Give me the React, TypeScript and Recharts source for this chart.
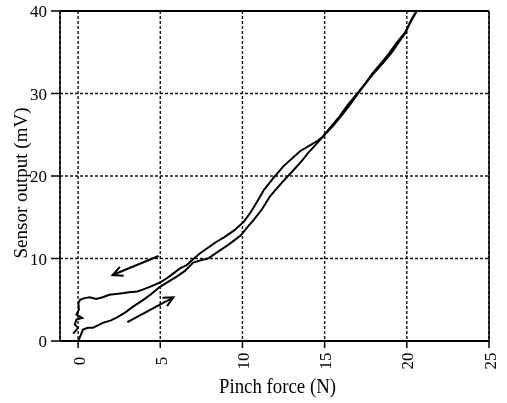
import React from 'react';
import { LineChart, Line, XAxis, YAxis, CartesianGrid, ReferenceLine, Label } from 'recharts';

const xTicks = [0, 5, 10, 15, 20, 25];
const yTicks = [0, 10, 20, 30, 40];

// Loading branch (force increasing)
const loadingCurve: [number, number][] = [
  [0, 0], [0.1, 0.4], [0.3, 1.4], [0.6, 1.6], [0.9, 1.6], [1.5, 2.2], [2.0, 2.5], [2.4, 2.9],
  [2.9, 3.5], [3.3, 4.1], [3.9, 4.9], [4.4, 5.6], [5.0, 6.6], [5.5, 7.2], [6.0, 7.8], [6.5, 8.5],
  [7.0, 9.5], [7.5, 9.8], [7.9, 10.0], [8.5, 10.8], [9.1, 11.6], [9.5, 12.2], [9.9, 12.8],
  [10.3, 13.8], [10.7, 14.7], [11.2, 16.0], [11.7, 17.6], [12.4, 19.2], [13.1, 20.7], [13.6, 21.8],
  [14.0, 22.8], [14.6, 24.1], [15.1, 25.2], [15.6, 26.3], [16.1, 27.5], [16.6, 28.8], [17.1, 30.2],
  [17.6, 31.5], [18.1, 32.7], [18.6, 33.8], [19.1, 35.0], [19.5, 36.2], [19.9, 37.3], [20.2, 38.6],
  [20.6, 40.0],
];

// Unloading branch (force decreasing)
const unloadingCurve: [number, number][] = [
  [20.6, 40.0], [20.3, 39.0], [19.9, 37.4], [19.4, 36.2], [18.9, 34.8], [18.4, 33.6], [17.9, 32.4],
  [17.4, 31.0], [16.9, 29.8], [16.4, 28.6], [15.9, 27.2], [15.4, 26.0], [14.9, 24.8], [14.6, 24.3],
  [14.0, 23.6], [13.5, 23.0], [13.0, 22.1], [12.5, 21.2], [11.9, 19.8], [11.3, 18.3], [10.9, 16.9],
  [10.5, 15.6], [10.1, 14.5], [9.5, 13.4], [8.9, 12.6], [8.4, 12.0], [7.9, 11.3], [7.4, 10.6],
  [7.0, 9.9], [6.6, 9.2], [6.2, 8.8], [5.8, 8.2], [5.4, 7.6], [5.0, 7.1], [4.4, 6.6], [3.9, 6.2],
  [3.6, 6.0], [3.1, 5.9], [2.7, 5.8], [2.3, 5.7], [1.9, 5.6], [1.5, 5.3], [1.1, 5.1], [0.7, 5.3],
  [0.4, 5.2], [0.12, 5.0], [0.02, 4.6], [0.05, 3.8], [-0.1, 3.2], [0.25, 2.8], [-0.1, 2.6],
  [-0.2, 2.0], [0.0, 1.6], [-0.3, 0.9],
];

// Direction arrows: [start, end]
const unloadArrow: [[number, number], [number, number]] = [[4.9, 10.3], [2.1, 8.0]];
const loadArrow: [[number, number], [number, number]] = [[3.0, 2.3], [5.8, 5.3]];

const toPoints = (arr: [number, number][]) => arr.map(([x, y]) => ({ x, y }));

const FONT = 'Liberation Serif, Times New Roman, serif';

const ArrowShape = (props: any) => {
  const { x1, y1, x2, y2 } = props;
  if ([x1, y1, x2, y2].some((v) => typeof v !== 'number' || isNaN(v))) return <g />;
  const ang = Math.atan2(y2 - y1, x2 - x1);
  const len = 11;
  const spread = 0.45;
  const ax = x2 - len * Math.cos(ang - spread);
  const ay = y2 - len * Math.sin(ang - spread);
  const bx = x2 - len * Math.cos(ang + spread);
  const by = y2 - len * Math.sin(ang + spread);
  return (
    <g>
      <line x1={x1} y1={y1} x2={x2} y2={y2} stroke="#000" strokeWidth={2} />
      <polyline points={`${ax},${ay} ${x2},${y2} ${bx},${by}`} fill="none" stroke="#000" strokeWidth={2} />
    </g>
  );
};

const XTick = (props: any) => {
  const { x, y, payload } = props;
  const cy = y + 11;
  return (
    <text
      x={x + 1}
      y={cy}
      transform={`rotate(-90, ${x + 1}, ${cy})`}
      textAnchor="middle"
      dominantBaseline="central"
      fontFamily={FONT}
      fontSize={17}
      fill="#000"
    >
      {payload.value}
    </text>
  );
};

export default function App() {
  return (
    <div style={{ position: 'absolute', left: 0, top: 0, background: '#fff', filter: 'grayscale(1)' }}>
      <LineChart width={507} height={403} margin={{ top: 11, right: 18, left: 0, bottom: 0 }}>
        <CartesianGrid stroke="#111" strokeDasharray="3 2" strokeWidth={1.4} />
        <XAxis
          type="number"
          dataKey="x"
          domain={[-1.1, 25]}
          ticks={xTicks}
          allowDataOverflow
          height={62}
          tickSize={7}
          tickMargin={2}
          tick={<XTick />}
          axisLine={{ stroke: '#000', strokeWidth: 2 }}
          tickLine={{ stroke: '#000', strokeWidth: 1.5 }}
        >
          <Label
            content={(p: any) => {
              const vb = p.viewBox || { x: 60, y: 341, width: 429 };
              return (
                <text
                  x={vb.x + vb.width / 2 + 3}
                  y={vb.y + 52}
                  textAnchor="middle"
                  fontFamily={FONT}
                  fontSize={20}
                  textLength={117}
                  lengthAdjust="spacingAndGlyphs"
                  fill="#000"
                >
                  Pinch force (N)
                </text>
              );
            }}
          />
        </XAxis>
        <YAxis
          type="number"
          domain={[0, 40]}
          ticks={yTicks}
          width={60}
          tickSize={9}
          tickMargin={4}
          tick={{ fontFamily: FONT, fontSize: 17, fill: '#000' }}
          axisLine={{ stroke: '#000', strokeWidth: 1.5 }}
          tickLine={{ stroke: '#000', strokeWidth: 1.5 }}
        >
          <Label
            content={(p: any) => {
              const vb = p.viewBox || { x: 0, y: 11, width: 60, height: 330 };
              const cx = vb.x + 27;
              const cy = vb.y + vb.height / 2 + 7;
              return (
                <text
                  x={cx}
                  y={cy}
                  transform={`rotate(-90, ${cx}, ${cy})`}
                  textAnchor="middle"
                  fontFamily={FONT}
                  fontSize={18}
                  textLength={151}
                  lengthAdjust="spacingAndGlyphs"
                  fill="#000"
                >
                  Sensor output (mV)
                </text>
              );
            }}
          />
        </YAxis>
        <ReferenceLine y={40} stroke="#000" strokeWidth={2} />
        <ReferenceLine x={25} stroke="#000" strokeWidth={1.5} />
        <Line
          data={toPoints(loadingCurve)}
          dataKey="y"
          type="linear"
          stroke="#000"
          strokeWidth={2}
          dot={false}
          isAnimationActive={false}
        />
        <Line
          data={toPoints(unloadingCurve)}
          dataKey="y"
          type="linear"
          stroke="#000"
          strokeWidth={2}
          dot={false}
          isAnimationActive={false}
        />
        <ReferenceLine
          segment={[{ x: unloadArrow[0][0], y: unloadArrow[0][1] }, { x: unloadArrow[1][0], y: unloadArrow[1][1] }]}
          shape={ArrowShape}
        />
        <ReferenceLine
          segment={[{ x: loadArrow[0][0], y: loadArrow[0][1] }, { x: loadArrow[1][0], y: loadArrow[1][1] }]}
          shape={ArrowShape}
        />
      </LineChart>
    </div>
  );
}
